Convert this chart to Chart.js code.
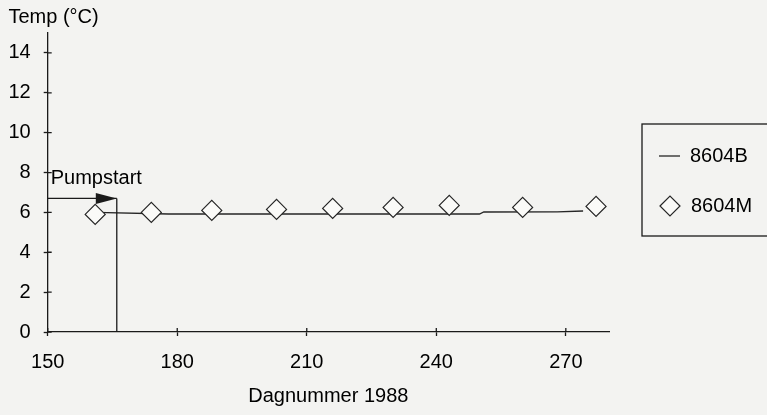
<!DOCTYPE html>
<html>
<head>
<meta charset="utf-8">
<title>Temp 8604</title>
<script src="https://cdn.jsdelivr.net/npm/chart.js@4/dist/chart.umd.min.js"></script>
<style>
  html, body { margin: 0; padding: 0; background: #f3f3f1; }
  #wrap { width: 767px; height: 415px; }
</style>
</head>
<body>
<div id="wrap"><canvas id="c" width="767" height="415"></canvas></div>
<script>
// Temperature series, day number in 1988
const dayB  = [161, 178, 250, 251, 268, 274];
const tempB = [6.0, 5.92, 5.92, 6.02, 6.03, 6.07];

const dayM  = [161, 174, 188, 203, 216, 230, 243, 260, 277];
const tempM = [5.9, 6.0, 6.1, 6.15, 6.2, 6.25, 6.35, 6.25, 6.3];

const xTicks = [150, 180, 210, 240, 270];
const yTicks = [0, 2, 4, 6, 8, 10, 12, 14];

// Pump start marker
const pumpstartDay = 166;
const pumpstartTemp = 6.7;
const pumpstartText = 'Pumpstart';

const INK = '#1a1a1a';
const BG = '#f3f3f1';
const FONT = '"Liberation Sans", Arial, Helvetica, sans-serif';

Chart.defaults.font.family = FONT;
Chart.defaults.font.size = 20;
Chart.defaults.color = '#000';

const toPoints = (xs, ys) => xs.map((x, i) => ({ x: x, y: ys[i] }));

const extras = {
  id: 'extras',
  beforeDraw(chart) {
    const ctx = chart.ctx;
    ctx.save();
    ctx.fillStyle = BG;
    ctx.fillRect(0, 0, chart.width, chart.height);
    ctx.restore();
  },
  afterDatasetsDraw(chart) {
    const ctx = chart.ctx;
    const xs = chart.scales.x, ys = chart.scales.y;
    const area = chart.chartArea;
    ctx.save();
    ctx.strokeStyle = INK;
    ctx.lineWidth = 1.3;

    // inner half of the crossing tick marks
    ctx.beginPath();
    ys.ticks.forEach(t => {
      const py = ys.getPixelForValue(t.value);
      ctx.moveTo(area.left, py);
      ctx.lineTo(area.left + 4, py);
    });
    xs.ticks.forEach(t => {
      const px = xs.getPixelForValue(t.value);
      ctx.moveTo(px, area.bottom);
      ctx.lineTo(px, area.bottom - 4);
    });
    ctx.stroke();

    // pump start: vertical line, horizontal arrow and label
    const px = xs.getPixelForValue(pumpstartDay);
    const py = ys.getPixelForValue(pumpstartTemp);
    ctx.beginPath();
    ctx.moveTo(px, area.bottom);
    ctx.lineTo(px, py);
    ctx.moveTo(area.left, py);
    ctx.lineTo(px, py);
    ctx.stroke();
    ctx.fillStyle = INK;
    ctx.beginPath();
    ctx.moveTo(px - 21, py - 5.5);
    ctx.lineTo(px, py);
    ctx.lineTo(px - 21, py + 5.5);
    ctx.closePath();
    ctx.fill();

    ctx.fillStyle = '#000';
    ctx.font = '20px ' + FONT;
    ctx.textAlign = 'left';
    ctx.textBaseline = 'alphabetic';
    ctx.fillText(pumpstartText, area.left + 3, ys.getPixelForValue(7.4));

    // legend box
    const lx = area.right + 33, ly = 124, lh = 112;
    ctx.lineWidth = 1.3;
    ctx.strokeStyle = INK;
    ctx.strokeRect(lx, ly, chart.width - lx + 10, lh);

    const dsB = chart.data.datasets[0];
    const dsM = chart.data.datasets[1];
    const rowB = ly + 32, rowM = ly + 82;

    ctx.beginPath();
    ctx.strokeStyle = dsB.borderColor;
    ctx.lineWidth = dsB.borderWidth;
    ctx.moveTo(lx + 17, rowB);
    ctx.lineTo(lx + 38, rowB);
    ctx.stroke();

    ctx.beginPath();
    ctx.strokeStyle = dsM.pointBorderColor;
    ctx.fillStyle = dsM.pointBackgroundColor;
    ctx.lineWidth = dsM.pointBorderWidth;
    const cx = lx + 28, r = dsM.pointRadius;
    ctx.moveTo(cx - r, rowM);
    ctx.lineTo(cx, rowM - r);
    ctx.lineTo(cx + r, rowM);
    ctx.lineTo(cx, rowM + r);
    ctx.closePath();
    ctx.fill();
    ctx.stroke();

    ctx.fillStyle = '#000';
    ctx.textBaseline = 'middle';
    ctx.fillText(dsB.label, lx + 48, rowB);
    ctx.fillText(dsM.label, lx + 49, rowM);
    ctx.restore();
  }
};

new Chart(document.getElementById('c'), {
  type: 'scatter',
  data: {
    datasets: [
      {
        label: '8604B',
        data: toPoints(dayB, tempB),
        showLine: true,
        borderColor: '#262626',
        borderWidth: 1.3,
        pointRadius: 0,
        fill: false,
        order: 1
      },
      {
        label: '8604M',
        data: toPoints(dayM, tempM),
        showLine: false,
        pointStyle: 'rectRot',
        pointRadius: 10,
        pointBorderColor: '#262626',
        pointBackgroundColor: '#fafaf8',
        pointBorderWidth: 1.2,
        order: 0
      }
    ]
  },
  options: {
    responsive: false,
    animation: false,
    devicePixelRatio: 1,
    layout: { padding: { left: 8.5, right: 158, top: 0, bottom: 3 } },
    plugins: {
      legend: { display: false },
      tooltip: { enabled: false },
      title: {
        display: true,
        text: 'Temp (°C)',
        align: 'start',
        color: '#000',
        font: { size: 20, weight: 'normal' },
        padding: { top: 5, bottom: 4 }
      }
    },
    scales: {
      x: {
        type: 'linear',
        min: 150,
        max: 280,
        afterBuildTicks: s => { s.ticks = xTicks.map(v => ({ value: v })); },
        afterFit: s => { s.height = 80; },
        ticks: { padding: 14, color: '#000', font: { size: 20 } },
        grid: { display: true, drawOnChartArea: false, drawTicks: true, tickLength: 4, color: INK, tickWidth: 1.3 },
        border: { display: true, color: INK, width: 1.3 },
        title: {
          display: true,
          text: 'Dagnummer 1988',
          color: '#000',
          font: { size: 20 },
          padding: { top: 10, bottom: 4 }
        }
      },
      y: {
        type: 'linear',
        min: 0,
        max: 15,
        afterBuildTicks: s => { s.ticks = yTicks.map(v => ({ value: v })); },
        afterFit: s => { s.width = 39.2; },
        ticks: { padding: 13, color: '#000', font: { size: 20 } },
        grid: { display: true, drawOnChartArea: false, drawTicks: true, tickLength: 4, color: INK, tickWidth: 1.3 },
        border: { display: true, color: INK, width: 1.3 }
      }
    }
  },
  plugins: [extras]
});
</script>
</body>
</html>
